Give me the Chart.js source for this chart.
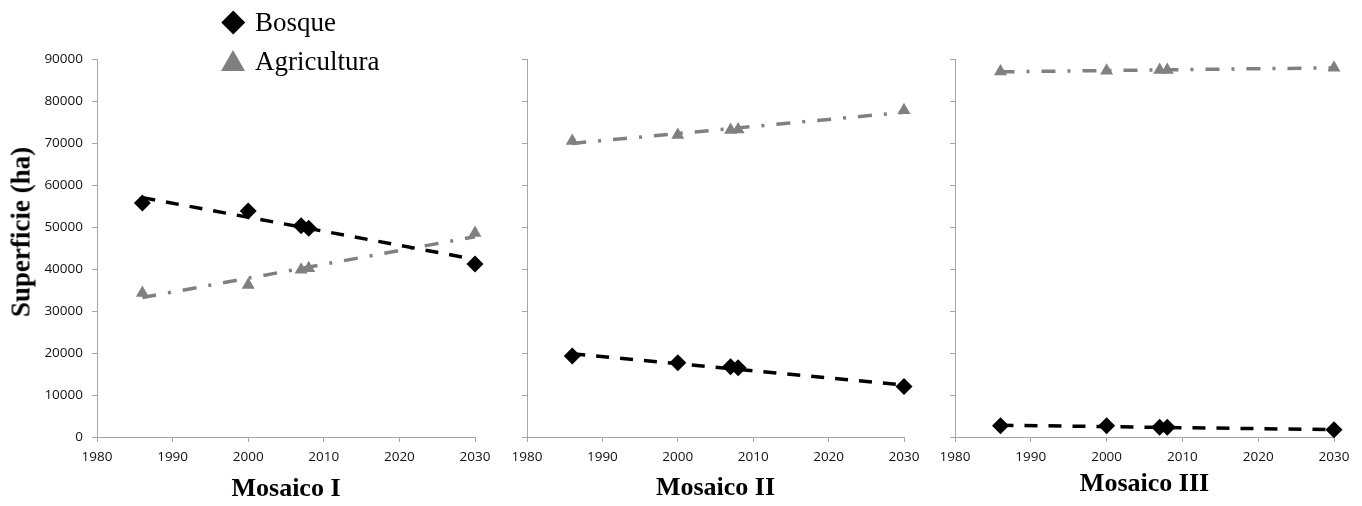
<!DOCTYPE html>
<html>
<head>
<meta charset="utf-8">
<script src="https://cdn.jsdelivr.net/npm/chart.js@4.4.1/dist/chart.umd.min.js"></script>
<style>
  html, body { margin: 0; padding: 0; background: #fff; }
  #wrap { position: relative; width: 1362px; height: 506px; overflow: hidden; background: #fff; }
  .panel { position: absolute; top: 0; height: 506px; }
  .panel canvas { display: block; }
  .legend-text {
    position: absolute; left: 255px; margin: 0;
    font-family: "Liberation Serif", "Times New Roman", serif;
    font-size: 27px; line-height: 27px; color: #000; white-space: nowrap;
  }
  .legend-diamond {
    position: absolute; left: 225px; top: 14px; width: 16.5px; height: 16.5px;
    background: #000; transform: rotate(45deg);
  }
  .legend-triangle {
    position: absolute; left: 221px; top: 50px; width: 0; height: 0;
    border-left: 12px solid transparent; border-right: 12px solid transparent;
    border-bottom: 21px solid #808080;
  }
  .y-title {
    position: absolute; left: 21px; top: 232px; margin: 0;
    transform: translate(-50%, -50%) rotate(-90deg);
    font-family: "Liberation Serif", "Times New Roman", serif;
    font-weight: bold; font-size: 27px; line-height: 27px; color: #000; white-space: nowrap;
  }
</style>
</head>
<body>
<div id="wrap">
  <div class="panel" style="left:0;width:500px"><canvas id="m1" width="500" height="506"></canvas></div>
  <div class="panel" style="left:500px;width:430px"><canvas id="m2" width="430" height="506"></canvas></div>
  <div class="panel" style="left:930px;width:432px"><canvas id="m3" width="432" height="506"></canvas></div>

  <p class="y-title" id="ytitle"></p>

  <div class="legend-diamond"></div>
  <p class="legend-text" style="top:9px">Bosque</p>
  <div class="legend-triangle"></div>
  <p class="legend-text" style="top:48px">Agricultura</p>
</div>

<script>
// Observed years and surface (ha) per land cover
const years = [1986, 2000, 2007, 2008, 2030];
const trendYears = [1986, 2030];

const bosqueI = [55700, 53800, 50300, 49700, 41200];
const agriI   = [34300, 36200, 39800, 40200, 48600];
const bosqueII = [19300, 17700, 16700, 16500, 12000];
const agriII   = [70500, 71900, 73100, 73200, 77800];
const bosqueIII = [2700, 2700, 2300, 2300, 1700];
const agriIII   = [87000, 87200, 87400, 87400, 87900];

// Linear trend lines (start and end values)
const bosqueTrendI = [57000, 42300];
const agriTrendI   = [33200, 47700];
const bosqueTrendII = [19800, 12400];
const agriTrendII   = [69900, 77300];
const bosqueTrendIII = [2800, 1750];
const agriTrendIII   = [86950, 87900];

const panelTitles = ["Mosaico I", "Mosaico II", "Mosaico III"];
const yTitle = "Superficie (ha)";
const xMin = 1980, xMax = 2030, xStep = 10;
const yMin = 0, yMax = 90000, yStep = 10000;

document.getElementById("ytitle").textContent = yTitle;

const BLACK = "#000000";
const GREY = "#808080";
const AXIS = "#a6a6a6";
const tickFont = { family: "'Open Sans', 'Liberation Sans', sans-serif", size: 13.5 };
const serifBold = { family: "'Liberation Serif', 'Times New Roman', serif", weight: "bold" };

function pts(xs, ys) {
  return xs.map((x, i) => ({ x: x, y: ys[i] }));
}

function buildPanel(id, bosque, agri, bosqueTrend, agriTrend, cfg) {
  const ctx = document.getElementById(id);
  return new Chart(ctx, {
    type: "scatter",
    data: {
      datasets: [
        {
          label: "Bosque (tendencia)",
          data: pts(trendYears, bosqueTrend),
          showLine: true, pointRadius: 0, clip: false,
          borderColor: BLACK, borderWidth: 3.5, borderDash: [13, 11],
          borderCapStyle: "butt", fill: false, order: 3
        },
        {
          label: "Agricultura (tendencia)",
          data: pts(trendYears, agriTrend),
          showLine: true, pointRadius: 0, clip: false,
          borderColor: GREY, borderWidth: 3.5, borderDash: [14, 12, 3, 12],
          borderCapStyle: "butt", fill: false, order: 4
        },
        {
          label: "Bosque",
          data: pts(years, bosque),
          showLine: false, pointStyle: "rectRot", pointRadius: 8.5, clip: false,
          backgroundColor: BLACK, borderColor: BLACK, borderWidth: 0, order: 1
        },
        {
          label: "Agricultura",
          data: pts(years, agri),
          showLine: false, pointStyle: "triangle", pointRadius: 7.5, clip: false,
          backgroundColor: GREY, borderColor: GREY, borderWidth: 0, order: 2
        }
      ]
    },
    options: {
      responsive: false,
      animation: false,
      devicePixelRatio: 1,
      layout: { padding: { left: 0, right: cfg.padRight, top: 59, bottom: 0 } },
      plugins: { legend: { display: false }, tooltip: { enabled: false } },
      scales: {
        x: {
          type: "linear", min: xMin, max: xMax,
          afterFit: (s) => { s.height = 69; },
          grid: { drawOnChartArea: false, drawTicks: true, tickLength: 5, color: AXIS },
          border: { display: true, color: AXIS, width: 1 },
          ticks: {
            stepSize: xStep, padding: 7, color: "#111", font: tickFont,
            maxRotation: 0, callback: (v) => String(v)
          },
          title: {
            display: true, text: cfg.title, color: "#000",
            font: Object.assign({ size: 26 }, serifBold),
            padding: { top: 0, bottom: cfg.titlePad }
          }
        },
        y: {
          type: "linear", min: yMin, max: yMax,
          afterFit: (s) => { s.width = cfg.axisWidth; },
          grid: { drawOnChartArea: false, drawTicks: true, tickLength: 5, color: AXIS },
          border: { display: true, color: AXIS, width: 1 },
          ticks: {
            stepSize: yStep, padding: 9, color: "#111", font: tickFont,
            callback: (v) => (cfg.showYLabels ? String(v) : "")
          }
        }
      }
    }
  });
}

buildPanel("m1", bosqueI, agriI, bosqueTrendI, agriTrendI,
  { title: panelTitles[0], axisWidth: 97, padRight: 25, titlePad: 1.5, showYLabels: true });
buildPanel("m2", bosqueII, agriII, bosqueTrendII, agriTrendII,
  { title: panelTitles[1], axisWidth: 27, padRight: 26, titlePad: 2, showYLabels: false });
buildPanel("m3", bosqueIII, agriIII, bosqueTrendIII, agriTrendIII,
  { title: panelTitles[2], axisWidth: 25, padRight: 28, titlePad: 6, showYLabels: false });
</script>
</body>
</html>
